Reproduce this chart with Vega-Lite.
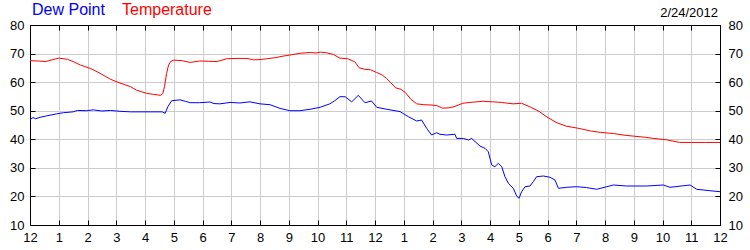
{
  "$schema": "https://vega.github.io/schema/vega-lite/v6.json",
  "width": 690,
  "height": 200,
  "autosize": "none",
  "padding": {"left": 30, "top": 25, "right": 30, "bottom": 25},
  "background": "white",
  "config": {
    "view": {"stroke": null},
    "font": "Liberation Sans",
    "axis": {"labelFont": "Liberation Sans", "labelFontSize": 13, "labelColor": "#000000", "domainColor": "#000000", "tickColor": "#000000", "gridColor": "#CCCCCC", "gridWidth": 1, "domainWidth": 1, "tickWidth": 1, "title": null}
  },
  "title": {"text": "2/24/2012", "anchor": "end", "frame": "group", "fontSize": 13, "fontWeight": "normal", "font": "Liberation Sans", "color": "#000000", "baseline": "alphabetic", "offset": -28, "dx": -2},
  "data": {"values": [
    {"h": 0, "v": 67.5, "s": "Temperature"},
    {"h": 0.3, "v": 67.4, "s": "Temperature"},
    {"h": 0.55, "v": 67.2, "s": "Temperature"},
    {"h": 0.8, "v": 67.9, "s": "Temperature"},
    {"h": 1.0, "v": 68.4, "s": "Temperature"},
    {"h": 1.3, "v": 68.0, "s": "Temperature"},
    {"h": 1.5, "v": 67.2, "s": "Temperature"},
    {"h": 1.75, "v": 66.0, "s": "Temperature"},
    {"h": 2.1, "v": 64.8, "s": "Temperature"},
    {"h": 2.4, "v": 63.3, "s": "Temperature"},
    {"h": 2.8, "v": 61.0, "s": "Temperature"},
    {"h": 3.1, "v": 59.8, "s": "Temperature"},
    {"h": 3.5, "v": 58.4, "s": "Temperature"},
    {"h": 3.7, "v": 57.2, "s": "Temperature"},
    {"h": 4.05, "v": 56.1, "s": "Temperature"},
    {"h": 4.3, "v": 55.7, "s": "Temperature"},
    {"h": 4.55, "v": 55.4, "s": "Temperature"},
    {"h": 4.62, "v": 56.0, "s": "Temperature"},
    {"h": 4.68, "v": 58.5, "s": "Temperature"},
    {"h": 4.75, "v": 63.0, "s": "Temperature"},
    {"h": 4.82, "v": 66.0, "s": "Temperature"},
    {"h": 4.9, "v": 67.3, "s": "Temperature"},
    {"h": 5.0, "v": 67.7, "s": "Temperature"},
    {"h": 5.3, "v": 67.5, "s": "Temperature"},
    {"h": 5.57, "v": 66.9, "s": "Temperature"},
    {"h": 5.9, "v": 67.4, "s": "Temperature"},
    {"h": 6.2, "v": 67.3, "s": "Temperature"},
    {"h": 6.5, "v": 67.2, "s": "Temperature"},
    {"h": 6.85, "v": 68.2, "s": "Temperature"},
    {"h": 7.2, "v": 68.3, "s": "Temperature"},
    {"h": 7.55, "v": 68.3, "s": "Temperature"},
    {"h": 7.77, "v": 67.8, "s": "Temperature"},
    {"h": 8.0, "v": 67.9, "s": "Temperature"},
    {"h": 8.25, "v": 68.2, "s": "Temperature"},
    {"h": 8.55, "v": 68.6, "s": "Temperature"},
    {"h": 8.8, "v": 69.1, "s": "Temperature"},
    {"h": 9.1, "v": 69.6, "s": "Temperature"},
    {"h": 9.4, "v": 70.1, "s": "Temperature"},
    {"h": 9.75, "v": 70.4, "s": "Temperature"},
    {"h": 9.95, "v": 70.2, "s": "Temperature"},
    {"h": 10.1, "v": 70.5, "s": "Temperature"},
    {"h": 10.3, "v": 70.3, "s": "Temperature"},
    {"h": 10.55, "v": 69.7, "s": "Temperature"},
    {"h": 10.78, "v": 68.4, "s": "Temperature"},
    {"h": 11.05, "v": 68.2, "s": "Temperature"},
    {"h": 11.3, "v": 67.1, "s": "Temperature"},
    {"h": 11.45, "v": 65.0, "s": "Temperature"},
    {"h": 11.65, "v": 64.5, "s": "Temperature"},
    {"h": 11.85, "v": 64.3, "s": "Temperature"},
    {"h": 12.05, "v": 63.4, "s": "Temperature"},
    {"h": 12.25, "v": 62.5, "s": "Temperature"},
    {"h": 12.4, "v": 61.3, "s": "Temperature"},
    {"h": 12.55, "v": 59.8, "s": "Temperature"},
    {"h": 12.72, "v": 58.0, "s": "Temperature"},
    {"h": 12.9, "v": 57.5, "s": "Temperature"},
    {"h": 13.05, "v": 56.4, "s": "Temperature"},
    {"h": 13.25, "v": 54.0, "s": "Temperature"},
    {"h": 13.45, "v": 52.4, "s": "Temperature"},
    {"h": 13.7, "v": 52.1, "s": "Temperature"},
    {"h": 13.95, "v": 52.0, "s": "Temperature"},
    {"h": 14.15, "v": 51.8, "s": "Temperature"},
    {"h": 14.35, "v": 50.9, "s": "Temperature"},
    {"h": 14.55, "v": 51.0, "s": "Temperature"},
    {"h": 14.75, "v": 51.4, "s": "Temperature"},
    {"h": 15.05, "v": 52.6, "s": "Temperature"},
    {"h": 15.3, "v": 52.9, "s": "Temperature"},
    {"h": 15.75, "v": 53.3, "s": "Temperature"},
    {"h": 16.1, "v": 53.1, "s": "Temperature"},
    {"h": 16.4, "v": 52.9, "s": "Temperature"},
    {"h": 16.8, "v": 52.4, "s": "Temperature"},
    {"h": 17.1, "v": 52.6, "s": "Temperature"},
    {"h": 17.4, "v": 51.3, "s": "Temperature"},
    {"h": 17.7, "v": 49.8, "s": "Temperature"},
    {"h": 17.95, "v": 48.0, "s": "Temperature"},
    {"h": 18.3, "v": 45.9, "s": "Temperature"},
    {"h": 18.65, "v": 44.6, "s": "Temperature"},
    {"h": 19.1, "v": 43.8, "s": "Temperature"},
    {"h": 19.5, "v": 42.9, "s": "Temperature"},
    {"h": 19.85, "v": 42.4, "s": "Temperature"},
    {"h": 20.3, "v": 42.0, "s": "Temperature"},
    {"h": 20.7, "v": 41.4, "s": "Temperature"},
    {"h": 21.0, "v": 41.1, "s": "Temperature"},
    {"h": 21.4, "v": 40.7, "s": "Temperature"},
    {"h": 21.7, "v": 40.3, "s": "Temperature"},
    {"h": 22.15, "v": 39.8, "s": "Temperature"},
    {"h": 22.6, "v": 38.9, "s": "Temperature"},
    {"h": 23.0, "v": 38.9, "s": "Temperature"},
    {"h": 23.5, "v": 38.9, "s": "Temperature"},
    {"h": 24.0, "v": 38.9, "s": "Temperature"},
    {"h": 0, "v": 46.8, "s": "Dew Point"},
    {"h": 0.1, "v": 47.6, "s": "Dew Point"},
    {"h": 0.2, "v": 47.2, "s": "Dew Point"},
    {"h": 0.35, "v": 47.7, "s": "Dew Point"},
    {"h": 0.58, "v": 48.2, "s": "Dew Point"},
    {"h": 0.93, "v": 48.9, "s": "Dew Point"},
    {"h": 1.16, "v": 49.3, "s": "Dew Point"},
    {"h": 1.5, "v": 49.6, "s": "Dew Point"},
    {"h": 1.65, "v": 50.1, "s": "Dew Point"},
    {"h": 1.97, "v": 50.0, "s": "Dew Point"},
    {"h": 2.2, "v": 50.3, "s": "Dew Point"},
    {"h": 2.5, "v": 49.9, "s": "Dew Point"},
    {"h": 2.8, "v": 50.1, "s": "Dew Point"},
    {"h": 3.13, "v": 49.8, "s": "Dew Point"},
    {"h": 3.5, "v": 49.6, "s": "Dew Point"},
    {"h": 3.9, "v": 49.6, "s": "Dew Point"},
    {"h": 4.2, "v": 49.6, "s": "Dew Point"},
    {"h": 4.6, "v": 49.6, "s": "Dew Point"},
    {"h": 4.7, "v": 49.1, "s": "Dew Point"},
    {"h": 4.8, "v": 51.5, "s": "Dew Point"},
    {"h": 4.93, "v": 53.5, "s": "Dew Point"},
    {"h": 5.22, "v": 53.8, "s": "Dew Point"},
    {"h": 5.4, "v": 53.3, "s": "Dew Point"},
    {"h": 5.57, "v": 52.8, "s": "Dew Point"},
    {"h": 5.9, "v": 52.8, "s": "Dew Point"},
    {"h": 6.26, "v": 53.05, "s": "Dew Point"},
    {"h": 6.4, "v": 52.5, "s": "Dew Point"},
    {"h": 6.61, "v": 52.4, "s": "Dew Point"},
    {"h": 6.96, "v": 52.9, "s": "Dew Point"},
    {"h": 7.3, "v": 52.7, "s": "Dew Point"},
    {"h": 7.65, "v": 53.1, "s": "Dew Point"},
    {"h": 8.0, "v": 52.4, "s": "Dew Point"},
    {"h": 8.35, "v": 52.1, "s": "Dew Point"},
    {"h": 8.7, "v": 50.8, "s": "Dew Point"},
    {"h": 9.04, "v": 50.0, "s": "Dew Point"},
    {"h": 9.39, "v": 50.0, "s": "Dew Point"},
    {"h": 9.74, "v": 50.5, "s": "Dew Point"},
    {"h": 10.09, "v": 51.2, "s": "Dew Point"},
    {"h": 10.43, "v": 52.4, "s": "Dew Point"},
    {"h": 10.6, "v": 53.5, "s": "Dew Point"},
    {"h": 10.78, "v": 54.9, "s": "Dew Point"},
    {"h": 10.96, "v": 54.9, "s": "Dew Point"},
    {"h": 11.19, "v": 53.1, "s": "Dew Point"},
    {"h": 11.42, "v": 55.4, "s": "Dew Point"},
    {"h": 11.65, "v": 52.8, "s": "Dew Point"},
    {"h": 11.88, "v": 53.4, "s": "Dew Point"},
    {"h": 12.06, "v": 51.2, "s": "Dew Point"},
    {"h": 12.41, "v": 50.5, "s": "Dew Point"},
    {"h": 12.87, "v": 49.7, "s": "Dew Point"},
    {"h": 13.16, "v": 47.9, "s": "Dew Point"},
    {"h": 13.45, "v": 46.4, "s": "Dew Point"},
    {"h": 13.62, "v": 46.75, "s": "Dew Point"},
    {"h": 13.8, "v": 43.8, "s": "Dew Point"},
    {"h": 13.97, "v": 41.5, "s": "Dew Point"},
    {"h": 14.14, "v": 42.3, "s": "Dew Point"},
    {"h": 14.26, "v": 41.75, "s": "Dew Point"},
    {"h": 14.49, "v": 41.5, "s": "Dew Point"},
    {"h": 14.78, "v": 41.75, "s": "Dew Point"},
    {"h": 14.84, "v": 40.3, "s": "Dew Point"},
    {"h": 15.07, "v": 40.3, "s": "Dew Point"},
    {"h": 15.25, "v": 39.75, "s": "Dew Point"},
    {"h": 15.36, "v": 40.3, "s": "Dew Point"},
    {"h": 15.48, "v": 39.2, "s": "Dew Point"},
    {"h": 15.65, "v": 37.65, "s": "Dew Point"},
    {"h": 15.83, "v": 36.8, "s": "Dew Point"},
    {"h": 15.94, "v": 35.65, "s": "Dew Point"},
    {"h": 16.06, "v": 31.0, "s": "Dew Point"},
    {"h": 16.17, "v": 30.4, "s": "Dew Point"},
    {"h": 16.29, "v": 31.6, "s": "Dew Point"},
    {"h": 16.41, "v": 30.4, "s": "Dew Point"},
    {"h": 16.52, "v": 26.9, "s": "Dew Point"},
    {"h": 16.64, "v": 24.6, "s": "Dew Point"},
    {"h": 16.81, "v": 22.85, "s": "Dew Point"},
    {"h": 16.93, "v": 20.1, "s": "Dew Point"},
    {"h": 17.01, "v": 19.35, "s": "Dew Point"},
    {"h": 17.1, "v": 21.65, "s": "Dew Point"},
    {"h": 17.22, "v": 23.4, "s": "Dew Point"},
    {"h": 17.39, "v": 23.65, "s": "Dew Point"},
    {"h": 17.51, "v": 25.2, "s": "Dew Point"},
    {"h": 17.62, "v": 26.9, "s": "Dew Point"},
    {"h": 17.86, "v": 27.15, "s": "Dew Point"},
    {"h": 18.09, "v": 26.7, "s": "Dew Point"},
    {"h": 18.26, "v": 25.75, "s": "Dew Point"},
    {"h": 18.38, "v": 22.85, "s": "Dew Point"},
    {"h": 18.67, "v": 23.2, "s": "Dew Point"},
    {"h": 19.01, "v": 23.4, "s": "Dew Point"},
    {"h": 19.36, "v": 23.1, "s": "Dew Point"},
    {"h": 19.71, "v": 22.5, "s": "Dew Point"},
    {"h": 20.06, "v": 23.4, "s": "Dew Point"},
    {"h": 20.29, "v": 24.0, "s": "Dew Point"},
    {"h": 20.75, "v": 23.65, "s": "Dew Point"},
    {"h": 21.45, "v": 23.65, "s": "Dew Point"},
    {"h": 22.03, "v": 24.0, "s": "Dew Point"},
    {"h": 22.26, "v": 23.2, "s": "Dew Point"},
    {"h": 22.96, "v": 24.0, "s": "Dew Point"},
    {"h": 23.19, "v": 22.5, "s": "Dew Point"},
    {"h": 23.65, "v": 22.0, "s": "Dew Point"},
    {"h": 24.0, "v": 21.65, "s": "Dew Point"}
  ]},
  "layer": [
    {
      "mark": {"type": "line", "strokeWidth": 1, "opacity": 0},
      "encoding": {
        "x": {"field": "h", "type": "quantitative", "scale": {"domain": [0, 24], "nice": false},
          "axis": {"orient": "top", "values": [0,1,2,3,4,5,6,7,8,9,10,11,12,13,14,15,16,17,18,19,20,21,22,23,24], "labels": false, "grid": false, "tickSize": -5}},
        "y": {"field": "v", "type": "quantitative", "scale": {"domain": [10, 80], "nice": false, "zero": false},
          "axis": {"orient": "right", "values": [10,20,30,40,50,60,70,80], "grid": false, "tickSize": -5, "labelPadding": 13, "labelAlign": "left"}},
        "detail": {"field": "s"}
      }
    },
    {
      "mark": {"type": "line", "strokeWidth": 1},
      "encoding": {
        "x": {"field": "h", "type": "quantitative", "scale": {"domain": [0, 24], "nice": false},
          "axis": {"orient": "bottom", "values": [0,1,2,3,4,5,6,7,8,9,10,11,12,13,14,15,16,17,18,19,20,21,22,23,24], "grid": true, "tickSize": -5, "labelPadding": 11, "labelFlush": false, "labelExpr": "datum.value % 12 == 0 ? '12' : '' + (datum.value % 12)"}},
        "y": {"field": "v", "type": "quantitative", "scale": {"domain": [10, 80], "nice": false, "zero": false},
          "axis": {"orient": "left", "values": [10,20,30,40,50,60,70,80], "grid": true, "tickSize": -5, "labelPadding": 11}},
        "color": {"field": "s", "type": "nominal",
          "scale": {"domain": ["Dew Point", "Temperature"], "range": ["#0000FF", "#FF0000"]},
          "legend": {"orient": "none", "legendX": -14, "legendY": -23, "direction": "horizontal", "gridAlign": "none", "padding": 0, "title": null, "symbolSize": 0, "symbolStrokeWidth": 0, "symbolOpacity": 0, "labelOffset": 0, "columnPadding": 1, "labelFont": "Liberation Sans", "labelFontSize": 16, "labelLimit": 0,
            "encode": {"labels": {"update": {"fill": {"signal": "datum.value === 'Dew Point' ? '#0000FF' : '#FF0000'"}}}}}
        }
      }
    }
  ],
  "resolve": {"axis": {"x": "independent", "y": "independent"}}
}
